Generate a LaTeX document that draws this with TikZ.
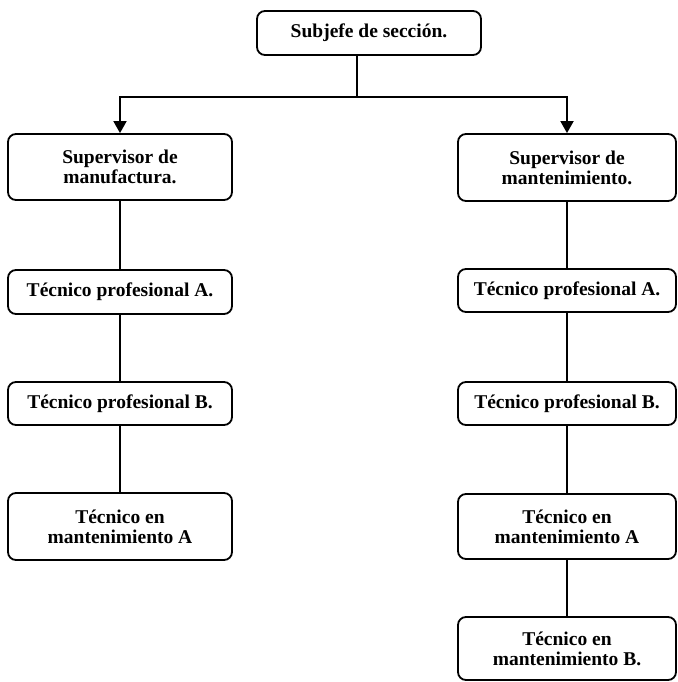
\documentclass[tikz,border=0pt]{standalone}
\usepackage{fontspec}
\setmainfont{Liberation Serif}
\usetikzlibrary{arrows.meta}
\begin{document}
\begin{tikzpicture}[x=1pt,y=-1pt,
  caja/.style={draw, line width=1.8pt, rounded corners=8pt, align=center,
    font=\bfseries\fontsize{19.5}{20}\selectfont, inner sep=0pt},
  linea/.style={line width=1.8pt},
  flecha/.style={line width=1.8pt, -{Triangle[length=12pt,width=13pt]}}]
\useasboundingbox (0,0) rectangle (677,682);

\node[caja, minimum width=224pt, minimum height=44pt] (subjefe) at (369,33) {Subjefe de sección.};

% rama izquierda
\node[caja, minimum width=224pt, minimum height=66pt] (supman) at (120,167) {Supervisor de\\manufactura.};
\node[caja, minimum width=224pt, minimum height=44pt] (tpa1) at (120,292) {Técnico profesional A.};
\node[caja, minimum width=224pt, minimum height=43pt] (tpb1) at (120,403.5) {Técnico profesional B.};
\node[caja, minimum width=224pt, minimum height=67pt] (tma1) at (120,526.5) {Técnico en\\mantenimiento A};

% rama derecha
\node[caja, minimum width=218pt, minimum height=67pt] (supmant) at (567,167.5) {Supervisor de\\mantenimiento.};
\node[caja, minimum width=218pt, minimum height=43pt] (tpa2) at (567,290.5) {Técnico profesional A.};
\node[caja, minimum width=218pt, minimum height=43pt] (tpb2) at (567,403.5) {Técnico profesional B.};
\node[caja, minimum width=218pt, minimum height=65pt] (tma2) at (567,526.5) {Técnico en\\mantenimiento A};
\node[caja, minimum width=218pt, minimum height=63pt] (tmb2) at (567,648.5) {Técnico en\\mantenimiento B.};

\coordinate (nudo) at (357,97);
\draw[linea] (subjefe.south -| nudo) -- (nudo);
\draw[flecha] (nudo) -| (supman.north);
\draw[flecha] (nudo) -| (supmant.north);

\foreach \a/\b in {supman/tpa1,tpa1/tpb1,tpb1/tma1,supmant/tpa2,tpa2/tpb2,tpb2/tma2,tma2/tmb2} {
    \draw[linea] (\a.south) -- (\b.north);
}
\end{tikzpicture}
\end{document}
